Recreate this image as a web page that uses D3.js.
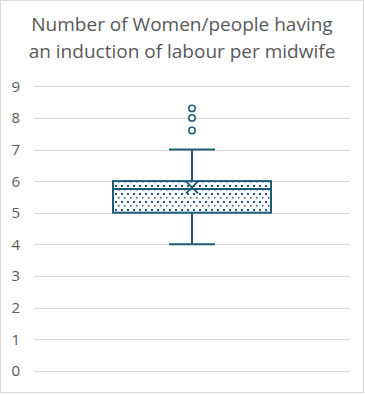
<!DOCTYPE html>
<html>
<head>
<meta charset="utf-8">
<script src="https://cdn.jsdelivr.net/npm/d3@7"></script>
<style>
  body { margin: 0; background: #fff; }
  text { font-family: "Open Sans", "Noto Sans", sans-serif; fill: #595959; }
</style>
</head>
<body>
<svg id="chart" width="365" height="395"></svg>
<script>
var titleLines = ["Number of Women/people having", "an induction of labour per midwife"];
var yTicks = [0, 1, 2, 3, 4, 5, 6, 7, 8, 9];
var categories = ["All"];
// box stats
var whiskerLow = [4];
var quartile1 = [5];
var medians = [5.75];
var quartile3 = [6];
var whiskerHigh = [7];
var means = [5.8];
var outliers = [[7.6, 8.0, 8.3]];

var color = "#1d5c79";
var svg = d3.select("#chart");

svg.append("rect")
  .attr("x", 0.5).attr("y", 0.5)
  .attr("width", 363).attr("height", 392)
  .attr("fill", "#fff").attr("stroke", "#d9d9d9");

var defs = svg.append("defs");
var pat = defs.append("pattern")
  .attr("id", "dots")
  .attr("patternUnits", "userSpaceOnUse")
  .attr("width", 6).attr("height", 8);
pat.append("rect").attr("x", 1).attr("y", 1).attr("width", 2).attr("height", 2).attr("fill", color);
pat.append("rect").attr("x", 4).attr("y", 5).attr("width", 1.5).attr("height", 1.5).attr("fill", color);

var titleG = svg.append("text")
  .attr("text-anchor", "middle")
  .style("font-size", "19px");
titleG.selectAll("tspan")
  .data(titleLines)
  .enter()
  .append("tspan")
  .attr("x", 182)
  .attr("y", function (d, i) { return 31 + i * 27; })
  .text(function (d) { return d; });

var plotLeft = 34, plotRight = 350, plotTop = 86.3, plotBottom = 370.7;

var yScale = d3.scaleLinear().domain([0, 9]).range([plotBottom, plotTop]);
var xScale = d3.scaleBand().domain(categories).range([plotLeft, plotRight]).paddingInner(0).paddingOuter(0);

// gridlines
svg.append("g")
  .selectAll("line")
  .data(yTicks)
  .enter()
  .append("line")
  .attr("x1", plotLeft).attr("x2", plotRight)
  .attr("y1", function (d) { return Math.round(yScale(d)) + 0.5; })
  .attr("y2", function (d) { return Math.round(yScale(d)) + 0.5; })
  .attr("stroke", "#d9d9d9").attr("stroke-width", 1);

// y axis labels
svg.append("g")
  .selectAll("text")
  .data(yTicks)
  .enter()
  .append("text")
  .attr("x", 20)
  .attr("y", function (d) { return yScale(d) + 5.5; })
  .attr("text-anchor", "end")
  .style("font-size", "15px")
  .text(function (d) { return d; });

categories.forEach(function (cat, i) {
  var bw = xScale.bandwidth();
  var cx = xScale(cat) + bw / 2;
  var boxW = bw * 0.5;
  var capW = 46;
  var g = svg.append("g");

  // whisker stems
  g.append("line")
    .attr("x1", cx).attr("x2", cx)
    .attr("y1", yScale(whiskerHigh[i])).attr("y2", yScale(quartile3[i]))
    .attr("stroke", color).attr("stroke-width", 2);
  g.append("line")
    .attr("x1", cx).attr("x2", cx)
    .attr("y1", yScale(quartile1[i])).attr("y2", yScale(whiskerLow[i]))
    .attr("stroke", color).attr("stroke-width", 2);
  // caps
  [whiskerHigh[i], whiskerLow[i]].forEach(function (v) {
    g.append("line")
      .attr("x1", cx - capW / 2).attr("x2", cx + capW / 2)
      .attr("y1", yScale(v)).attr("y2", yScale(v))
      .attr("stroke", color).attr("stroke-width", 2);
  });

  // box
  g.append("rect")
    .attr("x", cx - boxW / 2)
    .attr("y", yScale(quartile3[i]))
    .attr("width", boxW)
    .attr("height", yScale(quartile1[i]) - yScale(quartile3[i]))
    .attr("fill", "#fff");
  g.append("rect")
    .attr("x", cx - boxW / 2)
    .attr("y", yScale(quartile3[i]))
    .attr("width", boxW)
    .attr("height", yScale(quartile1[i]) - yScale(quartile3[i]))
    .attr("fill", "url(#dots)")
    .attr("stroke", color).attr("stroke-width", 2);

  // median
  g.append("line")
    .attr("x1", cx - boxW / 2).attr("x2", cx + boxW / 2)
    .attr("y1", yScale(medians[i])).attr("y2", yScale(medians[i]))
    .attr("stroke", color).attr("stroke-width", 2);

  // mean marker
  var my = yScale(means[i]), s = 6;
  g.append("path")
    .attr("d", "M" + (cx - s) + "," + (my - s) + "L" + (cx + s) + "," + (my + s) +
      "M" + (cx - s) + "," + (my + s) + "L" + (cx + s) + "," + (my - s))
    .attr("stroke", color).attr("stroke-width", 1.8).attr("fill", "none");

  // outliers
  g.selectAll("circle")
    .data(outliers[i])
    .enter()
    .append("circle")
    .attr("cx", cx)
    .attr("cy", function (d) { return yScale(d); })
    .attr("r", 3.2)
    .attr("fill", "#fff")
    .attr("stroke", color).attr("stroke-width", 1.5);
});
</script>
</body>
</html>
